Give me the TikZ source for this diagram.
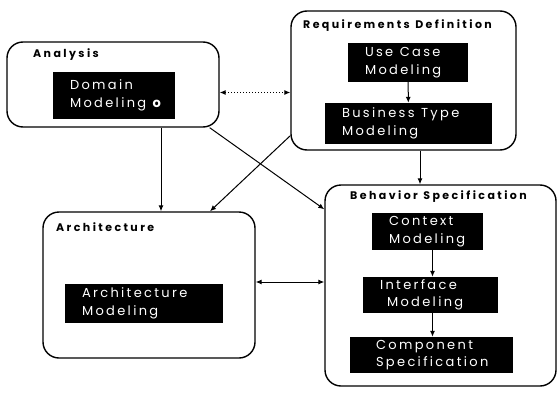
\documentclass[tikz,border=0pt]{standalone}
\usepackage{fontspec}
\newfontfamily\headfont[LetterSpace=22]{Poppins}
\newfontfamily\boxfont[LetterSpace=18]{Poppins}
\usepackage{tikz}
\usetikzlibrary{arrows.meta}

\begin{document}
\begin{tikzpicture}[x=1pt,y=-1pt,>={Latex[length=6pt,width=5pt]},
	group/.style={draw, line width=1.4pt, rounded corners=16pt, inner sep=0pt},
	grouplabel/.style={anchor=west, inner sep=0pt, font=\headfont\bfseries\fontsize{11}{13}\selectfont},
	task/.style={fill=black, text=white, inner xsep=17pt, inner ysep=0pt, align=left, font=\boxfont\fontsize{13}{17.5}\selectfont},
	link/.style={line width=1pt}]
	\useasboundingbox (0,0) rectangle (559,396);
	% the four areas
	\node[group, minimum width=212pt, minimum height=85pt] (analysis) at (113,84.5) {};
	\node[group, minimum width=225pt, minimum height=139pt] (reqdef) at (403.5,80.5) {};
	\node[group, minimum width=212pt, minimum height=146pt] (arch) at (149,285) {};
	\node[group, minimum width=231pt, minimum height=201pt] (behav) at (440.5,285.5) {};
	\node[grouplabel] (analysislbl) at (33,55) {Analysis};
	\node[grouplabel] (reqdeflbl) at (303,26) {Requirements\enspace Definition};
	\node[grouplabel] (archlbl) at (56,227) {Architecture};
	\node[grouplabel] (behavlbl) at (350,197) {Behavior\enspace Specification};
	% the workflows inside them
	\node[task, text width=88pt, minimum height=47pt] (dommod) at (114,95.5) {Domain\\\mbox{Modeling\enspace\textbf{o}}};
	\node[task, text width=86pt, minimum height=39pt] (usecase) at (408,62.5) {Use\enspace Case\\Modeling};
	\node[task, text width=133pt, minimum height=41pt] (bustype) at (408.5,123.5) {Business\enspace Type\\Modeling};
	\node[task, text width=124pt, minimum height=39pt] (archmod) at (144,303.5) {Architecture\\Modeling};
	\node[task, text width=77pt, minimum height=37pt] (context) at (427.5,231.5) {Context\\Modeling};
	\node[task, text width=101pt, minimum height=36pt] (interface) at (430.5,295) {Interface\\\hspace*{7pt}Modeling};
	\node[task, text width=129pt, minimum height=36pt] (compspec) at (431.5,355) {\hspace*{9pt}Component\\\hspace*{9pt}Specification};
	% arrows
	\draw[link, <->, dotted] ([yshift=-8pt]analysis.east) -- ([yshift=-8pt]analysis.east -| reqdef.west);
	\draw[link, ->] ([xshift=48pt]analysis.south) -- ([xshift=48pt]analysis.south |- arch.north);
	\draw[link, ->] ([xshift=-10pt]analysis.south east) -- ([yshift=-25pt]behav.north west);
	\draw[link, ->] ([yshift=15pt]reqdef.south west) -- ([xshift=61pt]arch.north);
	\draw[link, ->] ([xshift=16.5pt]reqdef.south) -- ([xshift=16.5pt]reqdef.south |- behav.north);
	\draw[link, <->] ([yshift=3pt]arch.east) -- ([yshift=3pt]arch.east -| behav.west);
	\draw[link, ->] (usecase) -- (bustype);
	\draw[link, ->] ([xshift=5pt]context.south) -- ([xshift=5pt]context.south |- interface.north);
	\draw[link, ->] ([xshift=2pt]interface.south) -- ([xshift=2pt]interface.south |- compspec.north);
\end{tikzpicture}
\end{document}
